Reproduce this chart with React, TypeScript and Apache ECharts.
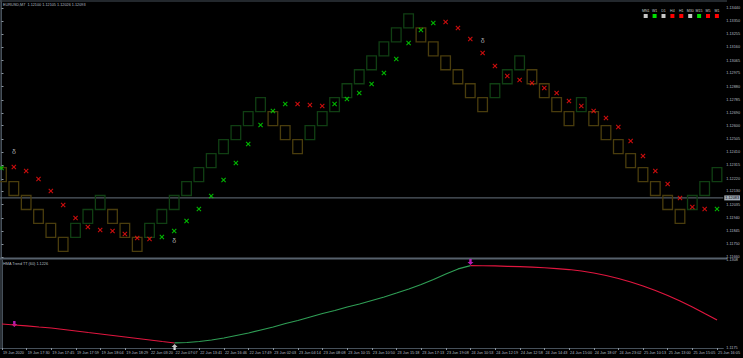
import React, { useEffect, useRef } from "react";
import * as echarts from "echarts";

// ---- Renko bricks (open / close) ----
const brickOpen = [
  1.123, 1.122, 1.121, 1.120, 1.119, 1.118, 1.118, 1.119, 1.120, 1.120,
  1.119, 1.118, 1.118, 1.119, 1.120, 1.121, 1.122, 1.123, 1.124, 1.125,
  1.126, 1.127, 1.127, 1.126, 1.125, 1.125, 1.126, 1.127, 1.128, 1.129,
  1.130, 1.131, 1.132, 1.133, 1.133, 1.132, 1.131, 1.130, 1.129, 1.128,
  1.128, 1.129, 1.130, 1.130, 1.129, 1.128, 1.127, 1.127, 1.127, 1.126,
  1.125, 1.124, 1.123, 1.122, 1.121, 1.120, 1.120, 1.121, 1.122,
];
const brickClose = [
  1.122, 1.121, 1.120, 1.119, 1.118, 1.117, 1.119, 1.120, 1.121, 1.119,
  1.118, 1.117, 1.119, 1.120, 1.121, 1.122, 1.123, 1.124, 1.125, 1.126,
  1.127, 1.128, 1.126, 1.125, 1.124, 1.126, 1.127, 1.128, 1.129, 1.130,
  1.131, 1.132, 1.133, 1.134, 1.132, 1.131, 1.130, 1.129, 1.128, 1.127,
  1.129, 1.130, 1.131, 1.129, 1.128, 1.127, 1.126, 1.128, 1.126, 1.125,
  1.124, 1.123, 1.122, 1.121, 1.120, 1.119, 1.121, 1.122, 1.123,
];

// ---- trend markers (x) ----
const markerValues = [
  1.12297, 1.12304, 1.12276, 1.12218, 1.12132, 1.12032, 1.11939, 1.11875, 1.11853, 1.11846,
  1.11825, 1.11796, 1.11789, 1.11803, 1.11846, 1.11918, 1.12004, 1.12097, 1.12211, 1.12333,
  1.12469, 1.12605, 1.12705, 1.12755, 1.12755, 1.12748, 1.12741, 1.12755, 1.12791, 1.12834,
  1.12898, 1.12977, 1.13077, 1.13192, 1.13285, 1.13335, 1.13342, 1.13299, 1.13220, 1.13120,
  1.13027, 1.12955, 1.12927, 1.12905, 1.12870, 1.12834, 1.12777, 1.12741, 1.12705, 1.12655,
  1.12590, 1.12490, 1.12383, 1.12276, 1.12183, 1.12082, 1.12018, 1.12004, 1.12004,
];
const markerTrend = [
  "U", "D", "D", "D", "D", "D", "D", "D", "D", "D",
  "D", "D", "D", "U", "U", "U", "U", "U", "U", "U",
  "U", "U", "U", "U", "D", "D", "D", "U", "U", "U",
  "U", "U", "U", "U", "U", "U", "D", "D", "D", "D",
  "D", "D", "D", "D", "D", "D", "D", "D", "D", "D",
  "D", "D", "D", "D", "D", "D", "D", "D", "U",
];

// ---- signal glyphs on the price chart ----
const signalIndex = [1, 14, 39];
const signalPrice = [1.12412, 1.11775, 1.13213];

// ---- HMA Trend indicator ----
const hmaValues = [
  1.12113, 1.12098, 1.12083, 1.12067, 1.12052, 1.12030, 1.12007, 1.11984, 1.11962, 1.11939,
  1.11916, 1.11894, 1.11871, 1.11848, 1.11826, 1.11833, 1.11848, 1.11871, 1.11901, 1.11939,
  1.11977, 1.12022, 1.12067, 1.12120, 1.12166, 1.12219, 1.12271, 1.12317, 1.12370, 1.12415,
  1.12468, 1.12521, 1.12581, 1.12642, 1.12710, 1.12785, 1.12868, 1.12945, 1.12995, 1.12993,
  1.12990, 1.12985, 1.12979, 1.12972, 1.12963, 1.12951, 1.12936, 1.12914, 1.12884, 1.12846,
  1.12800, 1.12748, 1.12687, 1.12619, 1.12543, 1.12460, 1.12370, 1.12271, 1.12173,
];
const hmaUpStart = 14;
const hmaUpEnd = 38;
const hmaArrowIndex = [1, 38, 14];
const hmaArrowValue = [1.12113, 1.13050, 1.11765];
const hmaArrowDir = ["down", "down", "up"];

// ---- axes ----
const priceTicks = [
  1.1166, 1.1175, 1.11845, 1.1194, 1.12035, 1.1213, 1.1222, 1.12315, 1.1241, 1.12505,
  1.126, 1.1269, 1.12785, 1.1288, 1.12975, 1.13065, 1.1316, 1.13255, 1.1335, 1.1344,
];
const currentPrice = 1.12083;
const hmaTicks = [1.1175, 1.1308];
const timeLabels = [
  "19 Jun 2020", "19 Jun 17:30", "19 Jun 17:45", "19 Jun 17:59", "19 Jun 18:04",
  "19 Jun 18:29", "22 Jun 03:20", "22 Jun 07:07", "22 Jun 13:41", "22 Jun 16:46",
  "22 Jun 17:49", "23 Jun 02:03", "23 Jun 04:14", "23 Jun 08:08", "23 Jun 10:15",
  "23 Jun 10:50", "23 Jun 15:18", "23 Jun 17:13", "23 Jun 19:08", "24 Jun 10:53",
  "24 Jun 12:19", "24 Jun 12:58", "24 Jun 14:43", "24 Jun 15:00", "24 Jun 18:07",
  "24 Jun 23:02", "25 Jun 10:13", "25 Jun 13:00", "25 Jun 15:05", "25 Jun 16:05",
];
const tfLabels = ["MN1", "W1", "D1", "H4", "H1", "M30", "M15", "M5", "M1"];
const tfState = ["flat", "up", "flat", "down", "down", "flat", "up", "down", "down"];
const titleText = "EURUSD,M7  1.12100 1.12105 1.12026 1.12093";
const indicatorTitle = "HMA Trend TT (60) 1.1226";

const FONT = "Liberation Sans";
const FS = 3.8;
const TXT = "#b4bcc4";
const BORDER = "#46505a";
const UP_BRICK = "#103f13";
const DOWN_BRICK = "#4a3d0d";

export default function App() {
  const ref = useRef<HTMLDivElement>(null);

  useEffect(() => {
    document.body.style.margin = "0";
    document.body.style.background = "#000";
    const chart = echarts.init(ref.current!, null, { renderer: "svg" });

    const plotW = 727;
    const step = 12.4;
    const x0px = 1.5;
    const xMin = -x0px / step;
    const xMax = (plotW - x0px) / step;

    const bricks = brickOpen.map((o, i) => [i, o, brickClose[i]]);
    const markers = markerValues.map((v, i) => ({
      value: [i, v],
      itemStyle: { color: markerTrend[i] === "U" ? "#00e600" : "#ff1010" },
    }));
    const signals = signalIndex.map((idx, i) => [idx, signalPrice[i]]);
    const downA = hmaValues.map((v, i) => [i, i <= hmaUpStart ? v : null]);
    const upLine = hmaValues.map((v, i) => [i, i >= hmaUpStart && i <= hmaUpEnd ? v : null]);
    const downB = hmaValues.map((v, i) => [i, i >= hmaUpEnd ? v : null]);
    const arrowDown = "path://M3,0L7,0L7,5L10,5L5,10L0,5L3,5Z";
    const arrowUp = "path://M5,0L10,5L7,5L7,10L3,10L3,5L0,5Z";
    const arrows = hmaArrowIndex.map((idx, i) => ({
      value: [idx, hmaArrowValue[i]],
      symbol: hmaArrowDir[i] === "up" ? arrowUp : arrowDown,
      itemStyle: { color: hmaArrowDir[i] === "up" ? "#f0f0f0" : "#e020e0" },
    }));
    const timeTickIdx = timeLabels.map((_, i) => i * 2);

    const tfColor = (s: string) => (s === "up" ? "#00e000" : s === "down" ? "#ff0000" : "#c8c8c8");
    const legendGraphics: any[] = [];
    tfLabels.forEach((lab, i) => {
      const cx = 645.7 + i * 8.9;
      legendGraphics.push({
        type: "text",
        x: cx,
        y: 9,
        style: { text: lab, fill: "#c8c8c8", fontSize: 3.6, fontFamily: FONT, align: "center" },
      });
      legendGraphics.push({
        type: "rect",
        shape: { x: cx - 2, y: 14, width: 4, height: 4 },
        style: { fill: tfColor(tfState[i]) },
      });
    });

    const option: any = {
      animation: false,
      backgroundColor: "#000",
      textStyle: { fontFamily: FONT },
      grid: [
        { left: 0, top: 2, width: plotW, height: 255 },
        { left: 0, top: 260, width: plotW, height: 88 },
      ],
      xAxis: [
        { gridIndex: 0, type: "value", min: xMin, max: xMax, show: false },
        {
          gridIndex: 1,
          type: "value",
          min: xMin,
          max: xMax,
          axisLine: { show: true, lineStyle: { color: BORDER, width: 1 } },
          axisTick: { show: true, customValues: timeTickIdx, length: 2, lineStyle: { color: "#8a949e" } },
          axisLabel: {
            customValues: timeTickIdx,
            formatter: (v: number) => timeLabels[Math.round(v / 2)],
            fontSize: FS,
            color: TXT,
            align: "left",
            margin: 2.5,
            padding: [0, 0, 0, 1],
          },
          splitLine: { show: false },
        },
      ],
      yAxis: [
        {
          gridIndex: 0,
          type: "value",
          position: "right",
          min: 1.1166,
          max: 1.13485,
          axisLine: { show: true, lineStyle: { color: BORDER } },
          axisTick: { show: true, customValues: priceTicks, length: 2, lineStyle: { color: "#8a949e" } },
          axisLabel: {
            customValues: priceTicks,
            formatter: (v: number) => v.toFixed(5),
            fontSize: FS,
            color: TXT,
            margin: 3,
          },
          splitLine: { show: false },
        },
        {
          gridIndex: 1,
          type: "value",
          position: "right",
          min: 1.1175,
          max: 1.1308,
          axisLine: { show: true, lineStyle: { color: BORDER } },
          axisTick: { show: false },
          axisLabel: {
            customValues: hmaTicks,
            formatter: (v: number) => v.toFixed(4),
            fontSize: FS,
            color: TXT,
            margin: 3,
          },
          splitLine: { show: false },
        },
      ],
      graphic: [
        { type: "line", shape: { x1: 0, y1: 1, x2: plotW, y2: 1 }, style: { stroke: BORDER, lineWidth: 1.2 } },
        { type: "line", shape: { x1: 1, y1: 0, x2: 1, y2: 349 }, style: { stroke: BORDER, lineWidth: 1.2 } },
        { type: "line", shape: { x1: 0, y1: 258.5, x2: plotW, y2: 258.5 }, style: { stroke: "#56616c", lineWidth: 2 } },
        {
          type: "text",
          x: 3,
          y: 3,
          style: { text: titleText, fill: TXT, fontSize: FS, fontFamily: FONT },
        },
        {
          type: "text",
          x: 3,
          y: 261.5,
          style: { text: indicatorTitle, fill: TXT, fontSize: FS, fontFamily: FONT },
        },
        ...legendGraphics,
      ],
      series: [
        {
          type: "line",
          xAxisIndex: 0,
          yAxisIndex: 0,
          showSymbol: false,
          silent: true,
          z: 1,
          lineStyle: { color: "#66727e", width: 1 },
          data: [
            [xMin, currentPrice],
            [xMax, currentPrice],
          ],
          endLabel: {
            show: true,
            distance: 1,
            formatter: currentPrice.toFixed(5),
            backgroundColor: "#a2adb8",
            color: "#000",
            fontSize: FS,
            padding: [1, 1, 0, 1],
          },
        },
        {
          type: "custom",
          xAxisIndex: 0,
          yAxisIndex: 0,
          clip: true,
          z: 2,
          data: bricks,
          renderItem: (params: any, api: any) => {
            const x = api.value(0);
            const o = api.value(1);
            const c = api.value(2);
            const top = api.coord([x, Math.max(o, c)]);
            const bot = api.coord([x, Math.min(o, c)]);
            const w = api.size([1, 0])[0] * 0.78;
            return {
              type: "rect",
              shape: { x: top[0] - w / 2, y: top[1], width: w, height: bot[1] - top[1] },
              style: { fill: "none", stroke: c > o ? UP_BRICK : DOWN_BRICK, lineWidth: 1.3 },
            };
          },
        },
        {
          type: "scatter",
          xAxisIndex: 0,
          yAxisIndex: 0,
          z: 3,
          symbol: "path://M1.5,0L5,3.5L8.5,0L10,1.5L6.5,5L10,8.5L8.5,10L5,6.5L1.5,10L0,8.5L3.5,5L0,1.5Z",
          symbolSize: 5,
          data: markers,
        },
        {
          type: "scatter",
          xAxisIndex: 0,
          yAxisIndex: 0,
          z: 3,
          symbolSize: 0.1,
          itemStyle: { color: "rgba(0,0,0,0)" },
          label: { show: true, position: "inside", formatter: "δ", color: "#cfcfcf", fontSize: 7 },
          data: signals,
        },
        {
          type: "line",
          xAxisIndex: 1,
          yAxisIndex: 1,
          showSymbol: false,
          lineStyle: { color: "#e0163f", width: 1.2 },
          data: downA,
        },
        {
          type: "line",
          xAxisIndex: 1,
          yAxisIndex: 1,
          showSymbol: false,
          lineStyle: { color: "#2f9e55", width: 1.2 },
          data: upLine,
        },
        {
          type: "line",
          xAxisIndex: 1,
          yAxisIndex: 1,
          showSymbol: false,
          lineStyle: { color: "#e0163f", width: 1.2 },
          data: downB,
        },
        {
          type: "scatter",
          xAxisIndex: 1,
          yAxisIndex: 1,
          symbolSize: 6,
          data: arrows,
        },
      ],
    };

    chart.setOption(option);
    return () => chart.dispose();
  }, []);

  return (
    <div
      ref={ref}
      style={{ position: "absolute", left: 0, top: 0, width: 743, height: 358, background: "#000" }}
    />
  );
}
